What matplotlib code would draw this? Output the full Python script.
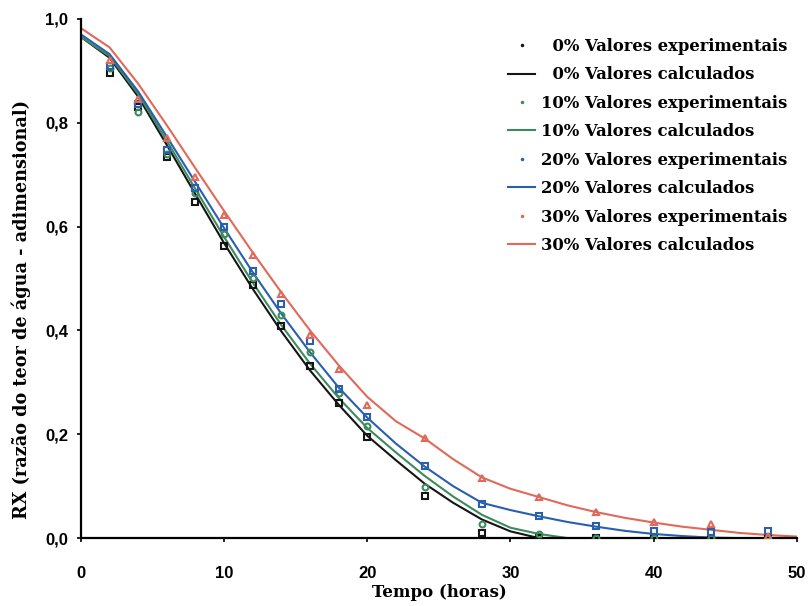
import matplotlib
matplotlib.use("Agg")
import matplotlib.pyplot as plt
from matplotlib.lines import Line2D
from matplotlib.ticker import FuncFormatter

# Tempo das medidas experimentais (horas)
t_exp = [2, 4, 6, 8, 10, 12, 14, 16, 18, 20, 24, 28, 32, 36, 40, 44, 48]

rx_exp_0 = [0.896, 0.83, 0.733, 0.648, 0.562, 0.488, 0.408, 0.331, 0.26, 0.194,
            0.081, 0.01, 0.0, 0.0, 0.0, 0.0, 0.0]
rx_exp_10 = [0.905, 0.82, 0.74, 0.665, 0.585, 0.50, 0.43, 0.358, 0.28, 0.215,
             0.098, 0.027, 0.008, 0.0, 0.0, 0.0, 0.0]
rx_exp_20 = [0.91, 0.835, 0.748, 0.675, 0.60, 0.514, 0.45, 0.379, 0.288, 0.233,
             0.138, 0.065, 0.042, 0.023, 0.014, 0.012, 0.013]
rx_exp_30 = [0.92, 0.845, 0.77, 0.696, 0.623, 0.546, 0.47, 0.392, 0.325, 0.256,
             0.192, 0.115, 0.079, 0.05, 0.031, 0.027, 0.005]

t_calc = list(range(0, 51, 2))
rx_calc_0 = [0.965, 0.925, 0.85, 0.757, 0.662, 0.568, 0.48, 0.398, 0.323, 0.257,
             0.197, 0.15, 0.105, 0.068, 0.036, 0.013, 0.0, 0.0, 0.0, 0.0,
             0.0, 0.0, 0.0, 0.0, 0.0, 0.0]
rx_calc_10 = [0.965, 0.928, 0.855, 0.765, 0.672, 0.58, 0.492, 0.41, 0.336, 0.27,
              0.212, 0.165, 0.12, 0.08, 0.045, 0.02, 0.008, 0.0, 0.0, 0.0,
              0.0, 0.0, 0.0, 0.0, 0.0, 0.0]
rx_calc_20 = [0.97, 0.932, 0.86, 0.773, 0.685, 0.597, 0.512, 0.432, 0.358, 0.29,
              0.232, 0.182, 0.138, 0.1, 0.068, 0.054, 0.042, 0.031, 0.022, 0.014,
              0.008, 0.004, 0.001, 0.0, 0.0, 0.0]
rx_calc_30 = [0.982, 0.945, 0.875, 0.795, 0.712, 0.63, 0.55, 0.473, 0.4, 0.333,
              0.272, 0.225, 0.192, 0.152, 0.117, 0.095, 0.079, 0.063, 0.05, 0.039,
              0.03, 0.022, 0.016, 0.01, 0.006, 0.003]

labels_pct = ["  0%", "10%", "20%", "30%"]
colors = ["#151515", "#3d8a5c", "#2a5fae", "#e0695a"]
markers = ["s", "o", "s", "^"]
exp_series = [rx_exp_0, rx_exp_10, rx_exp_20, rx_exp_30]
calc_series = [rx_calc_0, rx_calc_10, rx_calc_20, rx_calc_30]

fig = plt.figure(figsize=(8.09, 6.06), dpi=100)
ax = fig.add_axes([0.100, 0.112, 0.885, 0.857])

for rx_c, c in zip(calc_series, colors):
    ax.plot(t_calc, rx_c, color=c, lw=1.5, zorder=2)
for rx_e, c, m in zip(exp_series, colors, markers):
    ax.plot(t_exp, rx_e, linestyle="none", marker=m, ms=4.2, mfc="none",
            mec=c, mew=1.5, zorder=3)

ax.set_xlim(0, 50)
ax.set_ylim(0, 1.0)
ax.set_xticks([0, 10, 20, 30, 40, 50])
ax.set_yticks([0, 0.2, 0.4, 0.6, 0.8, 1.0])
ax.yaxis.set_major_formatter(FuncFormatter(lambda v, p: f"{v:.1f}".replace(".", ",")))
for s in ["top", "right"]:
    ax.spines[s].set_visible(False)
for s in ["left", "bottom"]:
    ax.spines[s].set_linewidth(1.6)
ax.tick_params(length=3, width=1.2, labelsize=12)
ax.tick_params(axis="x", pad=17)
ax.tick_params(axis="y", pad=6)
for lab in ax.get_xticklabels() + ax.get_yticklabels():
    lab.set_fontweight("bold")
    lab.set_family("Liberation Sans")

ax.set_xlabel("Tempo (horas)", family="DejaVu Serif", weight="bold", size=12, labelpad=2)
ax.set_ylabel("RX (razão do teor de água - adimensional)", family="DejaVu Serif",
              weight="bold", size=12.7)
ax.yaxis.set_label_coords(-0.07, 0.44)

handles = []
names = []
for lab, c, m in zip(labels_pct, colors, markers):
    handles.append(Line2D([], [], linestyle="none", marker=".", ms=3, color=c))
    names.append(f"{lab} Valores experimentais")
    handles.append(Line2D([], [], color=c, lw=1.5))
    names.append(f"{lab} Valores calculados")

ax.legend(handles, names, loc="upper right", bbox_to_anchor=(1.01, 0.995),
          frameon=False, prop={"family": "DejaVu Serif", "weight": "bold", "size": 11.8},
          handlelength=1.6, handletextpad=0.4, labelspacing=0.7, borderaxespad=0.6)

fig.savefig("out.png", dpi=100)
